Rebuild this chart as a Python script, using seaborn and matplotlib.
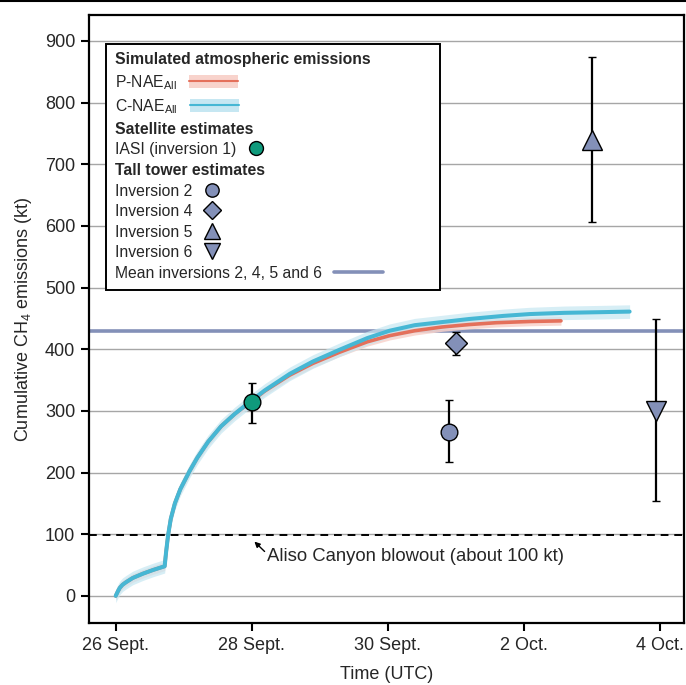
import numpy as np
import matplotlib
matplotlib.use("Agg")
import matplotlib.pyplot as plt
import seaborn as sns
from matplotlib.lines import Line2D
from matplotlib.patches import Patch
from matplotlib.legend_handler import HandlerLine2D, HandlerTuple

### ---------------- DATA (time in days since 26 Sept. 00:00 UTC) ---------------- ###
c_days = [0, 0.03, 0.06, 0.1, 0.15, 0.25, 0.4, 0.55, 0.72, 0.74, 0.77, 0.81, 0.87, 0.95,
          1.09, 1.2, 1.36, 1.55, 1.75, 2.0, 2.19, 2.56, 2.9, 3.29, 3.7, 4.03, 4.4, 4.8,
          5.2, 5.7, 6.09, 6.6, 7.1, 7.56]
c_vals = [0, 7, 13, 18, 22, 29, 36, 42, 48, 70, 98, 125, 150, 173,
          203, 224, 250, 275, 295, 317, 333, 360, 380, 399, 418, 430, 439, 444,
          449, 454, 457, 459, 460, 461]
c_spread = 11

p_days = [0, 0.03, 0.06, 0.1, 0.15, 0.25, 0.4, 0.55, 0.72, 0.74, 0.77, 0.81, 0.87, 0.95,
          1.09, 1.2, 1.36, 1.55, 1.75, 2.0, 2.19, 2.56, 2.9, 3.29, 3.7, 4.03, 4.4, 4.8,
          5.2, 5.6, 6.1, 6.55]
p_vals = [0, 7, 13, 18, 22, 29, 36, 42, 48, 70, 98, 125, 150, 173,
          203, 224, 250, 275, 295, 316, 332, 358, 377, 395, 412, 422, 430, 436,
          440, 443, 445, 446]
p_spread = 7

iasi_day = 2.0
iasi_val = 314
iasi_lo = 281
iasi_hi = 345

inv_labels = ["Inversion 2", "Inversion 4", "Inversion 5", "Inversion 6"]
inv_days = [4.91, 5.0, 7.0, 7.95]
inv_vals = [266, 410, 740, 299]
inv_lo = [217, 391, 606, 154]
inv_hi = [317, 428, 874, 449]

mean_inv = 430
aliso = 98

xtick_pos = [0, 2, 4, 6, 8]
xtick_labels = ["26 Sept.", "28 Sept.", "30 Sept.", "2 Oct.", "4 Oct."]
ytick_pos = list(range(0, 1000, 100))

### ---------------- STYLE ---------------- ###
RED = "#e4705b"
BLUE = "#46b7d4"
RED_BAND = "#f8d3cc"
BLUE_BAND = "#c6e7f2"
SLATE = "#8390b8"
GREEN = "#0f9a7c"
inv_markers = ["o", "D", "^", "v"]
inv_sizes = [12, 11, 15, 15]

sns.set_theme(style="white")
plt.rcParams["font.family"] = ["Liberation Sans", "DejaVu Sans"]
plt.rcParams["mathtext.fontset"] = "custom"
plt.rcParams["mathtext.rm"] = "Liberation Sans"


class MarkerNearText(HandlerLine2D):
    """Put the legend marker close to its label instead of centred."""
    def get_xdata(self, legend, xdescent, ydescent, width, height, fontsize):
        x = np.array([-xdescent + 0.45 * fontsize] * 2)
        return x, x


def main():
    fig = plt.figure(figsize=(6.86, 6.85), dpi=100)
    ax = fig.add_axes([89 / 686, 1 - 623 / 685, (684 - 89) / 686, (623 - 15) / 685])

    # grid
    for y in ytick_pos:
        ax.axhline(y, color="#a6a6a6", lw=1.0, zorder=0)

    ax.axhline(aliso, color="black", lw=1.4, ls=(0, (4, 3)), zorder=1)
    ax.axhline(mean_inv, color=SLATE, lw=2.6, zorder=2)

    # simulated cumulative emissions
    p_arr = np.array(p_vals)
    c_arr = np.array(c_vals)
    ax.fill_between(p_days, p_arr - p_spread, p_arr + p_spread, color=RED_BAND,
                    alpha=0.85, lw=0, zorder=3)
    ax.fill_between(c_days, c_arr - c_spread, c_arr + c_spread, color=BLUE_BAND,
                    alpha=0.7, lw=0, zorder=3)
    sns.lineplot(x=p_days, y=p_vals, ax=ax, color=RED, lw=2.6, zorder=4,
                 sort=False, estimator=None)
    sns.lineplot(x=c_days, y=c_vals, ax=ax, color=BLUE, lw=2.9, zorder=5,
                 sort=False, estimator=None)

    # satellite estimate
    ax.errorbar([iasi_day], [iasi_val],
                yerr=[[iasi_val - iasi_lo], [iasi_hi - iasi_val]],
                fmt="o", ms=12, mfc=GREEN, mec="black", mew=1.0,
                ecolor="black", elinewidth=1.6, capsize=3, capthick=1.6, zorder=7)

    # tall tower estimates
    for d, v, lo, hi, m, s in zip(inv_days, inv_vals, inv_lo, inv_hi, inv_markers, inv_sizes):
        ax.errorbar([d], [v], yerr=[[v - lo], [hi - v]], fmt=m, ms=s, mfc=SLATE,
                    mec="black", mew=1.0, ecolor="black", elinewidth=1.6,
                    capsize=3, capthick=1.6, zorder=7)

    # Aliso Canyon note
    ax.annotate("", xy=(2.04, 88), xytext=(2.19, 72),
                arrowprops=dict(arrowstyle="-|>", color="black", lw=1.0,
                                mutation_scale=8, shrinkA=0, shrinkB=0))
    ax.text(2.22, 64, "Aliso Canyon blowout (about 100 kt)", fontsize=13.3,
            va="center", ha="left")

    ax.set_xlim(-0.393, 8.36)
    ax.set_ylim(-44, 942)
    ax.set_xticks(xtick_pos)
    ax.set_xticklabels(xtick_labels)
    ax.set_yticks(ytick_pos)
    ax.tick_params(axis="both", which="both", direction="out", length=6, width=1.5,
                   color="black", labelsize=13, pad=4, left=True, bottom=True)
    for sp in ax.spines.values():
        sp.set_color("black")
        sp.set_linewidth(1.6)
    ax.set_xlabel("Time (UTC)", fontsize=13, labelpad=9)
    ax.set_ylabel("Cumulative CH$_\\mathregular{4}$ emissions (kt)", fontsize=13, labelpad=8)

    # legend
    blank = Line2D([], [], ls="none")
    p_handle = (Patch(facecolor=RED_BAND, edgecolor="none"), Line2D([], [], color=RED, lw=1.5))
    c_handle = (Patch(facecolor=BLUE_BAND, edgecolor="none"), Line2D([], [], color=BLUE, lw=1.5))
    iasi_handle = Line2D([], [], ls="none", marker="o", ms=10, mfc=GREEN, mec="black", mew=1.0)
    inv_handles = [Line2D([], [], ls="none", marker=m, ms=s * 0.8, mfc=SLATE, mec="black", mew=1.0)
                   for m, s in zip(inv_markers, inv_sizes)]
    mean_handle = Line2D([], [], color=SLATE, lw=2.6)

    handles = [blank, p_handle, c_handle, blank, iasi_handle, blank] + inv_handles + [mean_handle]
    labels = ["Simulated atmospheric emissions", "P-NAE$_\\mathregular{All}$",
              "C-NAE$_\\mathregular{All}$", "Satellite estimates", "IASI (inversion 1)",
              "Tall tower estimates"] + inv_labels + ["Mean inversions 2, 4, 5 and 6"]
    hmap = {h: MarkerNearText() for h in [iasi_handle] + inv_handles}
    hmap[tuple] = HandlerTuple(ndivide=1)
    leg = ax.legend(handles, labels, handler_map=hmap, loc="upper left",
                    bbox_to_anchor=(0.029, 0.953), borderaxespad=0, markerfirst=False,
                    fontsize=11.3, frameon=True, fancybox=False, edgecolor="black",
                    framealpha=1, handlelength=3.1, handleheight=0.9, handletextpad=0.8,
                    labelspacing=0.36, borderpad=0.55)
    leg.get_frame().set_linewidth(1.4)
    leg.set_zorder(10)
    for col in leg._legend_handle_box.get_children():
        col.align = "left"
    for i in (0, 3, 5):
        leg.get_texts()[i].set_fontweight("bold")

    fig.add_artist(Line2D([0, 1], [0.998, 0.998], transform=fig.transFigure,
                          color="black", lw=1.5))

    fig.savefig("out.png", dpi=100)


if __name__ == "__main__":
    main()
